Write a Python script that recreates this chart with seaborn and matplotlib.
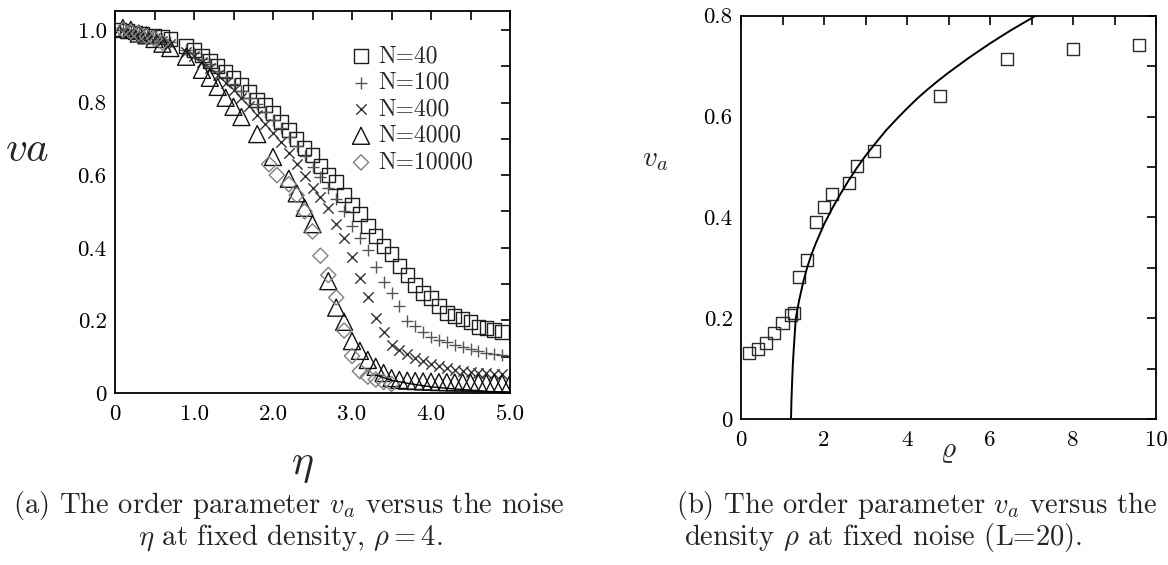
import numpy as np
import pandas as pd
import matplotlib
matplotlib.use("Agg")
import matplotlib.pyplot as plt
import seaborn as sns

# ---- panel (a): order parameter vs noise, fixed density rho = 4 ----
eta_40 = [0.05, 0.15, 0.25, 0.35, 0.5, 0.6, 0.7, 0.9, 1.0, 1.1, 1.2, 1.3, 1.4, 1.5, 1.6,
          1.7, 1.8, 1.9, 2.0, 2.1, 2.2, 2.3, 2.4, 2.5, 2.6, 2.7, 2.8, 2.9, 3.0, 3.1, 3.2,
          3.3, 3.4, 3.5, 3.6, 3.7, 3.8, 3.9, 4.0, 4.1, 4.2, 4.3, 4.4, 4.5, 4.6, 4.7, 4.8, 4.9]
va_40 = [1.0, 0.997, 0.993, 0.99, 0.985, 0.98, 0.975, 0.956, 0.945, 0.93, 0.915, 0.90,
         0.885, 0.868, 0.85, 0.83, 0.807, 0.793, 0.771, 0.747, 0.725, 0.70, 0.675, 0.656,
         0.625, 0.60, 0.581, 0.545, 0.518, 0.493, 0.46, 0.432, 0.405, 0.383, 0.35, 0.325,
         0.298, 0.275, 0.262, 0.24, 0.22, 0.212, 0.204, 0.196, 0.182, 0.179, 0.174, 0.168]

eta_100 = [0.1, 0.2, 0.3, 0.4, 0.5, 0.6, 0.7, 0.9, 1.0, 1.1, 1.2, 1.3, 1.4, 1.5, 1.6, 1.7,
           1.8, 1.9, 2.0, 2.1, 2.2, 2.3, 2.4, 2.5, 2.6, 2.7, 2.8, 2.9, 3.0, 3.1, 3.2, 3.3,
           3.4, 3.5, 3.6, 3.7, 3.8, 3.9, 4.0, 4.1, 4.2, 4.3, 4.4, 4.5, 4.6, 4.7, 4.8, 4.9]
va_100 = [1.0, 0.997, 0.993, 0.988, 0.982, 0.975, 0.967, 0.945, 0.935, 0.92, 0.905, 0.888,
          0.87, 0.852, 0.832, 0.812, 0.795, 0.775, 0.752, 0.73, 0.705, 0.68, 0.652, 0.622,
          0.595, 0.565, 0.535, 0.50, 0.46, 0.427, 0.394, 0.347, 0.306, 0.275, 0.24, 0.198,
          0.185, 0.168, 0.155, 0.146, 0.14, 0.132, 0.127, 0.121, 0.116, 0.11, 0.107, 0.104]

eta_400 = eta_100
va_400 = [1.0, 0.996, 0.99, 0.985, 0.978, 0.97, 0.96, 0.94, 0.928, 0.912, 0.895, 0.875,
          0.855, 0.835, 0.812, 0.79, 0.765, 0.74, 0.715, 0.69, 0.662, 0.632, 0.598, 0.565,
          0.54, 0.51, 0.466, 0.427, 0.375, 0.316, 0.264, 0.207, 0.168, 0.132, 0.118, 0.108,
          0.097, 0.087, 0.08, 0.073, 0.069, 0.064, 0.06, 0.057, 0.055, 0.054, 0.053, 0.052]

eta_4000 = [0.1, 0.2, 0.3, 0.4, 0.5, 0.6, 0.7, 0.9, 1.1, 1.2, 1.3, 1.4, 1.5, 1.6, 1.8, 2.0,
            2.2, 2.3, 2.4, 2.5, 2.7, 2.8, 2.9, 3.0, 3.1, 3.2, 3.3, 3.4, 3.5, 3.6, 3.7, 3.8,
            3.9, 4.0, 4.1, 4.2, 4.3, 4.4, 4.5, 4.6, 4.7, 4.8, 4.9, 5.0]
va_4000 = [1.005, 1.0, 0.99, 0.985, 0.975, 0.962, 0.95, 0.926, 0.89, 0.868, 0.843, 0.813,
           0.788, 0.76, 0.713, 0.65, 0.59, 0.55, 0.51, 0.465, 0.308, 0.235, 0.196, 0.143,
           0.116, 0.091, 0.072, 0.055, 0.041, 0.036, 0.034, 0.033, 0.032, 0.031, 0.030,
           0.030, 0.029, 0.029, 0.028, 0.028, 0.027, 0.027, 0.026, 0.026]

eta_10000 = [0.1, 0.2, 0.3, 0.4, 0.5, 0.6, 1.95, 2.05, 2.2, 2.3, 2.4, 2.5, 2.6, 2.7, 2.8,
             2.9, 3.0, 3.1, 3.2, 3.3, 3.4, 3.5]
va_10000 = [1.0, 0.995, 0.99, 0.982, 0.975, 0.965, 0.63, 0.60, 0.575, 0.545, 0.50, 0.445,
            0.378, 0.325, 0.263, 0.172, 0.102, 0.06, 0.045, 0.037, 0.03, 0.025]

# tail of the guide curve near the axis
eta_curve = [3.3, 3.5, 3.75, 4.0, 4.25, 4.5, 4.75, 5.0]
va_curve = [0.05, 0.035, 0.025, 0.017, 0.012, 0.008, 0.004, 0.001]

legend_labels = ["N=40", "N=100", "N=400", "N=4000", "N=10000"]

# ---- panel (b): order parameter vs density, fixed noise, L = 20 ----
rho_pts = [0.2, 0.4, 0.6, 0.8, 1.0, 1.2, 1.28, 1.4, 1.6, 1.8, 2.0, 2.2, 2.6, 2.8, 3.2,
           4.8, 6.4, 8.0, 9.6]
va_rho = [0.131, 0.139, 0.151, 0.171, 0.19, 0.207, 0.21, 0.282, 0.315, 0.39, 0.42, 0.446,
          0.468, 0.502, 0.532, 0.64, 0.714, 0.734, 0.742]

rho_fit = [1.205, 1.215, 1.23, 1.25, 1.28, 1.32, 1.4, 1.5, 1.6, 1.7, 1.8, 2.0, 2.2, 2.4,
           2.6, 2.8, 3.0, 3.25, 3.5, 3.75, 4.0, 4.25, 4.5, 4.75, 5.0, 5.5, 6.0, 6.5, 7.0, 7.1]
va_fit = [0.0, 0.035, 0.07, 0.11, 0.15, 0.2, 0.235, 0.272, 0.302, 0.327, 0.348, 0.386,
          0.418, 0.447, 0.474, 0.499, 0.522, 0.548, 0.573, 0.595, 0.616, 0.636, 0.654,
          0.671, 0.687, 0.717, 0.745, 0.771, 0.795, 0.80]

# ---- style ----
sns.set_style("white")
plt.rcParams["font.family"] = ["cmr10", "DejaVu Serif"]
plt.rcParams["mathtext.fontset"] = "cm"
plt.rcParams["axes.unicode_minus"] = False
plt.rcParams["axes.formatter.use_mathtext"] = True

W, H = 1168, 565
fig = plt.figure(figsize=(W / 100, H / 100), dpi=100)
fig.patch.set_facecolor("white")

ax1 = fig.add_axes([115 / W, 1 - 393 / H, 395 / W, 382 / H])
ax2 = fig.add_axes([741 / W, 1 - 419 / H, 415 / W, 403.3 / H])

tick_fs = 16.5

def style_axes(ax):
    for s in ax.spines.values():
        s.set_linewidth(1.3)
        s.set_color("black")
    ax.tick_params(which="both", direction="in", top=True, right=True,
                   length=6.5, width=1.2, labelsize=tick_fs, pad=6, colors="black")
    ax.grid(False)

# panel (a) series
series = [
    (eta_40, va_40, "s", 95, "#1e1e1e", True),
    (eta_100, va_100, "+", 80, "#555555", False),
    (eta_400, va_400, "x", 55, "#333333", False),
    (eta_4000, va_4000, "^", 150, "#111111", True),
    (eta_10000, va_10000, "D", 60, "#808080", True),
]
for (xs, ys, mk, sz, col, hollow), lab in zip(series, legend_labels):
    df = pd.DataFrame({"eta": xs, "va": ys})
    if hollow:
        sns.scatterplot(data=df, x="eta", y="va", ax=ax1, marker=mk, s=sz,
                        facecolor="none", edgecolor=col, linewidth=1.0, label=lab)
    else:
        sns.scatterplot(data=df, x="eta", y="va", ax=ax1, marker=mk, s=sz,
                        color=col, linewidth=1.0, label=lab)

sns.lineplot(x=eta_curve, y=va_curve, ax=ax1, color="black", linewidth=1.0,
             legend=False)

ax1.set_xlim(0, 5.0)
ax1.set_ylim(0, 1.052)
ax1.set_xticks(np.arange(0, 5.01, 0.5))
ax1.set_xticklabels(["0", "", "1.0", "", "2.0", "", "3.0", "", "4.0", "", "5.0"])
ax1.set_yticks(np.arange(0, 1.01, 0.1))
ax1.set_yticklabels(["0", "", "0.2", "", "0.4", "", "0.6", "", "0.8", "", "1.0"])
ax1.set_xlabel("")
ax1.set_ylabel("")
style_axes(ax1)
ax1.tick_params(axis="x", pad=8)

leg_fs = 17
leg = ax1.legend(loc="upper left", bbox_to_anchor=((349.2 - 115) / 395, (393 - 45) / 382),
                 frameon=False, fontsize=leg_fs, handlelength=1.0, handletextpad=0.25,
                 labelspacing=0.19, borderpad=0, borderaxespad=0)

# panel (b)
sns.lineplot(x=rho_fit, y=va_fit, ax=ax2, color="black", linewidth=1.4, legend=False)
sns.scatterplot(x=rho_pts, y=va_rho, ax=ax2, marker="s", s=75, facecolor="none",
                edgecolor="#2a2a2a", linewidth=1.0, legend=False)
ax2.set_xlim(0, 10)
ax2.set_ylim(0, 0.8)
ax2.set_xticks(np.arange(0, 10.01, 1))
ax2.set_xticklabels(["0", "", "2", "", "4", "", "6", "", "8", "", "10"])
ax2.set_yticks(np.arange(0, 0.801, 0.1))
ax2.set_yticklabels(["0", "", "0.2", "", "0.4", "", "0.6", "", "0.8"])
ax2.set_xlabel("")
ax2.set_ylabel("")
style_axes(ax2)
ax2.tick_params(axis="x", pad=8)

# axis labels
fig.text(27 / W, 1 - 150 / H, r"$va$", fontsize=31, ha="center", va="center")
fig.text(302 / W, 1 - 466 / H, r"$\eta$", fontsize=30, ha="center", va="center")
fig.text(655 / W, 1 - 160 / H, r"$v_a$", fontsize=21, ha="center", va="center")
fig.text(948 / W, 1 - 452 / H, r"$\varrho$", fontsize=21, ha="center", va="center")

# captions
cap_fs = 20.6
fig.text(289 / W, 1 - 505 / H, r"(a) The order parameter $v_a$ versus the noise",
         fontsize=cap_fs, ha="center", va="center")
fig.text(290 / W, 1 - 538 / H, r"$\eta$ at fixed density, $\rho = 4$.",
         fontsize=cap_fs, ha="center", va="center")
fig.text(676 / W, 1 - 505 / H, r"(b) The order parameter $v_a$ versus the",
         fontsize=cap_fs, ha="left", va="center")
fig.text(883 / W, 1 - 538 / H, r"density $\rho$ at fixed noise (L=20).",
         fontsize=cap_fs, ha="center", va="center")

fig.savefig("out.png", dpi=100, facecolor="white")
